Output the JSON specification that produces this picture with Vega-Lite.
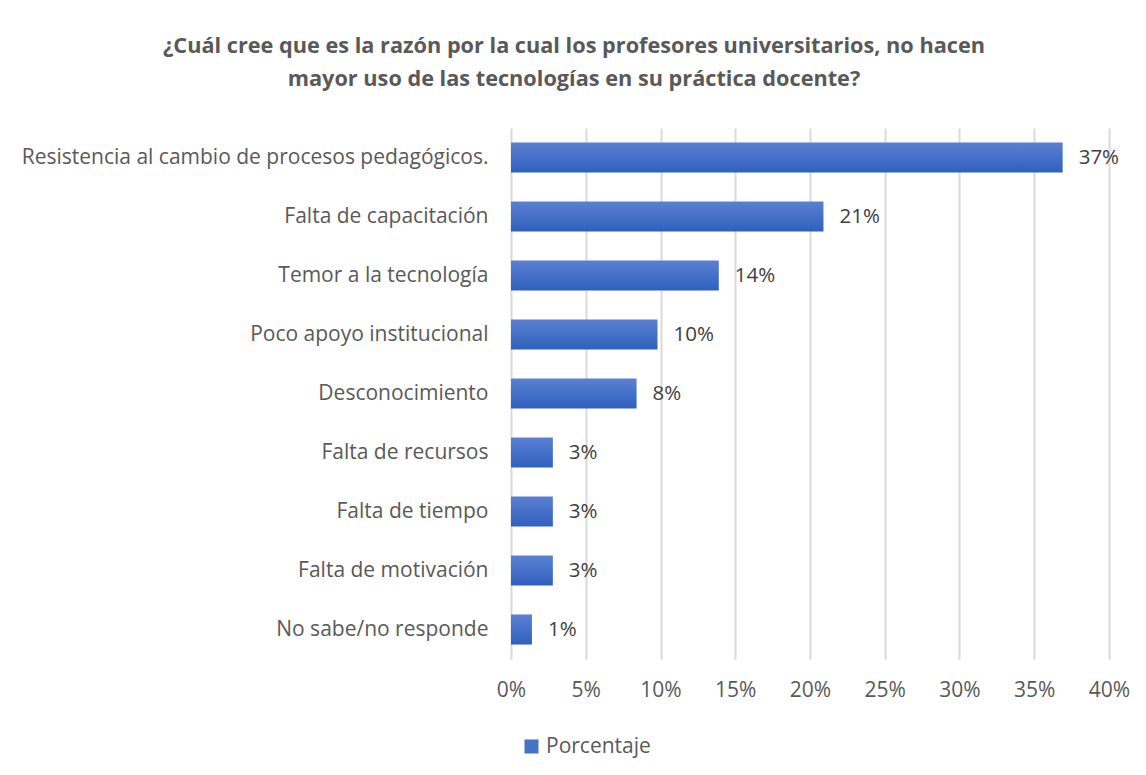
{
  "$schema": "https://vega.github.io/schema/vega-lite/v6.json",
  "width": 598,
  "height": 531,
  "autosize": {"type": "none"},
  "padding": {"left": 511, "top": 128, "right": 37, "bottom": 116},
  "background": "white",
  "title": {
    "text": ["¿Cuál cree que es la razón por la cual los profesores universitarios, no hacen", "mayor uso de las tecnologías en su práctica docente?"],
    "font": "Open Sans",
    "fontSize": 21.7,
    "fontWeight": "bold",
    "color": "#595959",
    "lineHeight": 33,
    "anchor": "middle",
    "frame": "group",
    "dx": -236,
    "offset": 37
  },
  "data": {
    "values": [
      {"razon": "Resistencia al cambio de procesos pedagógicos.", "pct": 0.369, "serie": "Porcentaje"},
      {"razon": "Falta de capacitación", "pct": 0.209, "serie": "Porcentaje"},
      {"razon": "Temor a la tecnología", "pct": 0.139, "serie": "Porcentaje"},
      {"razon": "Poco apoyo institucional", "pct": 0.098, "serie": "Porcentaje"},
      {"razon": "Desconocimiento", "pct": 0.084, "serie": "Porcentaje"},
      {"razon": "Falta de recursos", "pct": 0.028, "serie": "Porcentaje"},
      {"razon": "Falta de tiempo", "pct": 0.028, "serie": "Porcentaje"},
      {"razon": "Falta de motivación", "pct": 0.028, "serie": "Porcentaje"},
      {"razon": "No sabe/no responde", "pct": 0.014, "serie": "Porcentaje"}
    ]
  },
  "encoding": {
    "y": {
      "field": "razon",
      "type": "nominal",
      "sort": null,
      "title": null,
      "scale": {"paddingInner": 0.49, "paddingOuter": 0.245},
      "axis": {
        "domain": false,
        "ticks": false,
        "grid": false,
        "labelFont": "Open Sans",
        "labelFontSize": 21,
        "labelColor": "#595959",
        "labelPadding": 23,
        "labelLimit": 600
      }
    },
    "x": {
      "field": "pct",
      "type": "quantitative",
      "title": null,
      "scale": {"domain": [0, 0.4], "nice": false},
      "axis": {
        "format": "%",
        "values": [0, 0.05, 0.1, 0.15, 0.2, 0.25, 0.3, 0.35, 0.4],
        "domain": false,
        "ticks": false,
        "grid": true,
        "gridColor": "#D9D9D9",
        "gridWidth": 2,
        "labelFlush": false,
        "labelFont": "Open Sans",
        "labelFontSize": 21,
        "labelColor": "#595959",
        "labelPadding": 20
      }
    }
  },
  "layer": [
    {
      "mark": {
        "type": "bar",
        "color": {
          "gradient": "linear",
          "x1": 0, "y1": 0, "x2": 0, "y2": 1,
          "stops": [
            {"offset": 0, "color": "#5B80D2"},
            {"offset": 1, "color": "#2F60BE"}
          ]
        }
      }
    },
    {
      "mark": {"type": "bar", "opacity": 0},
      "encoding": {
        "color": {
          "field": "serie",
          "type": "nominal",
          "scale": {"range": ["#4472C4"]},
          "legend": {
            "title": null,
            "orient": "none",
            "legendX": 10,
            "legendY": 608,
            "symbolType": "square",
            "symbolSize": 196,
            "symbolOpacity": 1,
            "symbolStrokeWidth": 0,
            "labelFont": "Open Sans",
            "labelFontSize": 21,
            "labelColor": "#595959",
            "labelOffset": 4
          }
        }
      }
    },
    {
      "mark": {"type": "text", "align": "left", "baseline": "middle", "dx": 16, "font": "Open Sans", "fontSize": 20.5, "color": "#404040"},
      "encoding": {
        "text": {"field": "pct", "type": "quantitative", "format": ".0%"}
      }
    }
  ],
  "config": {
    "view": {"stroke": null}
  }
}
